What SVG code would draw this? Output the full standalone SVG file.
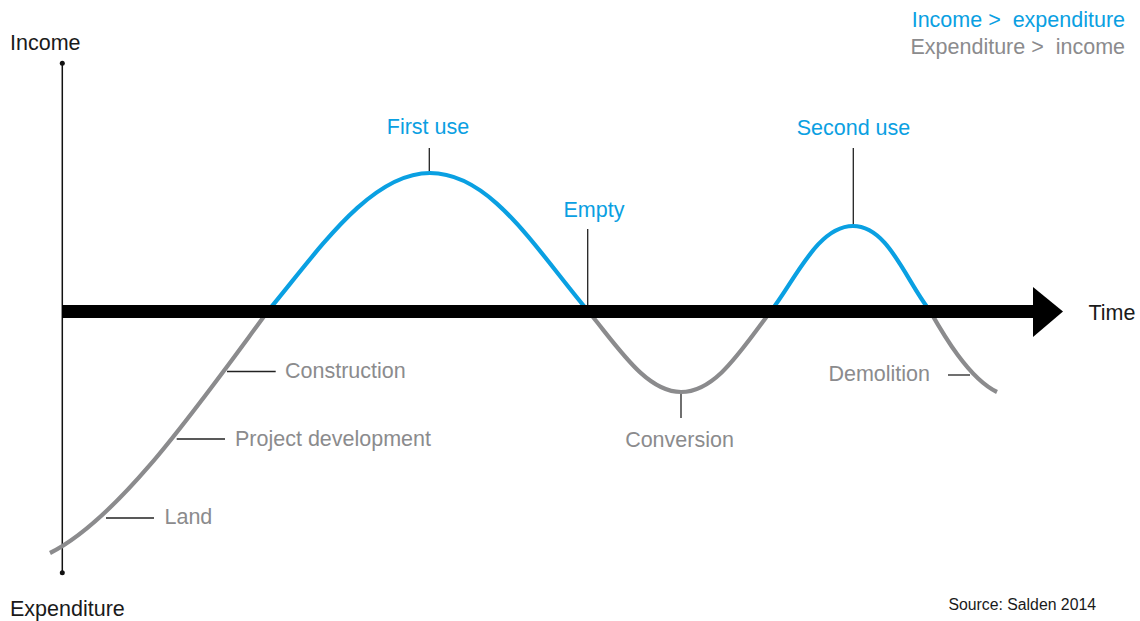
<svg xmlns="http://www.w3.org/2000/svg" width="1140" height="621" viewBox="0 0 1140 621">
<style>
text{font-family:"Liberation Sans",Arial,Helvetica,sans-serif;font-size:21.5px}
.blk{fill:#1a1a1a}
.gry{fill:#8b8b8d}
.blu{fill:#0aa0e2}
.tick{stroke:#222;stroke-width:1.3;fill:none}
.curve{fill:none;stroke-width:4.2}
.pre{white-space:pre}
</style>
<defs>
<clipPath id="above"><rect x="0" y="0" width="1140" height="311.5"/></clipPath>
<clipPath id="below"><rect x="0" y="311.5" width="1140" height="310"/></clipPath>
<path id="lifecurve" d="M50,553 C120,518 200,403 268,311 C318,251 370,173 430,173 C490,173 533,245 588,311 C618,347 646,392 681,392 C716,392 741,350 771,311 C796,278.5 818,226 853,226 C888,226 905,279 930,311 C942,332 968,378 997,392"/>
</defs>
<g id="axes">
<line x1="62.3" y1="63.3" x2="62.3" y2="572.7" stroke="#111" stroke-width="1.5"/>
<circle cx="62.3" cy="63.3" r="2.5" fill="#111"/>
<circle cx="62.3" cy="572.7" r="2.5" fill="#111"/>
</g>
<g id="curve">
<use href="#lifecurve" class="curve" stroke="#0aa0e2" clip-path="url(#above)"/>
<use href="#lifecurve" class="curve" stroke="#8b8b8d" clip-path="url(#below)"/>
</g>
<g id="time-arrow">
<rect x="62" y="305" width="973" height="13" fill="#000"/>
<polygon points="1033,287 1063,311.5 1033,337" fill="#000"/>
</g>
<g id="connectors">
<line class="tick" x1="106" y1="518" x2="154" y2="518"/>
<line class="tick" x1="176.7" y1="439" x2="225" y2="439"/>
<line class="tick" x1="227" y1="371.5" x2="275.7" y2="371.5"/>
<line class="tick" x1="429.3" y1="148" x2="429.3" y2="171"/>
<line class="tick" x1="587.7" y1="229" x2="587.7" y2="305"/>
<line class="tick" x1="681" y1="394" x2="681" y2="418"/>
<line class="tick" x1="853.3" y1="148" x2="853.3" y2="224"/>
<line class="tick" x1="948" y1="375" x2="970" y2="375"/>
</g>
<g id="label-income"><text class="blk" x="10" y="50">Income</text></g>
<g id="label-expenditure"><text class="blk" x="10" y="616">Expenditure</text></g>
<g id="label-time"><text class="blk" x="1088.5" y="320">Time</text></g>
<g id="legend">
<text class="blu pre" x="1125" y="27" text-anchor="end">Income &gt;  expenditure</text>
<text class="gry pre" x="1125" y="53.5" text-anchor="end">Expenditure &gt;  income</text>
</g>
<g id="label-land"><text class="gry" x="164.5" y="524">Land</text></g>
<g id="label-project"><text class="gry" x="235" y="446">Project development</text></g>
<g id="label-construction"><text class="gry" x="285" y="378">Construction</text></g>
<g id="label-first-use"><text class="blu" x="428" y="133.5" text-anchor="middle">First use</text></g>
<g id="label-empty"><text class="blu" x="594" y="217" text-anchor="middle">Empty</text></g>
<g id="label-conversion"><text class="gry" x="679.5" y="447" text-anchor="middle">Conversion</text></g>
<g id="label-second-use"><text class="blu" x="853.5" y="135" text-anchor="middle">Second use</text></g>
<g id="label-demolition"><text class="gry" x="930" y="381" text-anchor="end">Demolition</text></g>
<g id="label-source"><text class="blk" x="1096" y="610" text-anchor="end" style="font-size:15.8px">Source: Salden 2014</text></g>
</svg>
